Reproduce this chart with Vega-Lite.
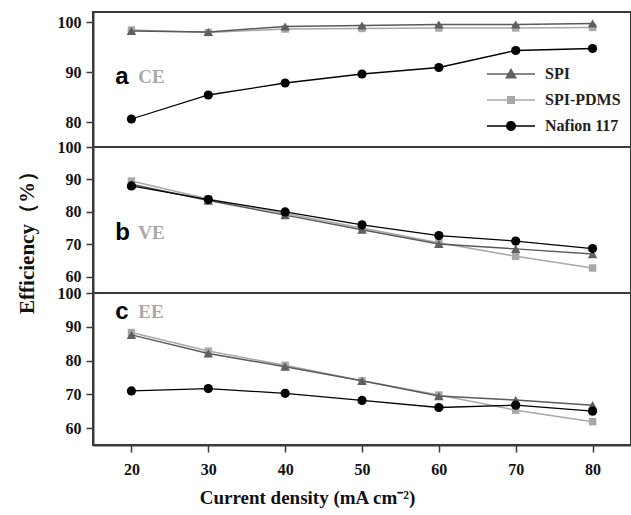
{
  "$schema": "https://vega.github.io/schema/vega-lite/v6.json",
  "padding": {"left": 15, "top": 11, "right": 0, "bottom": 3},
  "spacing": 0,
  "bounds": "flush",
  "datasets": {
    "d": [
      {"panel": "CE", "series": "SPI", "x": 20, "y": 98.2},
      {"panel": "CE", "series": "SPI", "x": 30, "y": 98.0},
      {"panel": "CE", "series": "SPI", "x": 40, "y": 99.1},
      {"panel": "CE", "series": "SPI", "x": 50, "y": 99.3},
      {"panel": "CE", "series": "SPI", "x": 60, "y": 99.5},
      {"panel": "CE", "series": "SPI", "x": 70, "y": 99.5},
      {"panel": "CE", "series": "SPI", "x": 80, "y": 99.7},
      {"panel": "CE", "series": "SPI-PDMS", "x": 20, "y": 98.4},
      {"panel": "CE", "series": "SPI-PDMS", "x": 30, "y": 97.9},
      {"panel": "CE", "series": "SPI-PDMS", "x": 40, "y": 98.6},
      {"panel": "CE", "series": "SPI-PDMS", "x": 50, "y": 98.7},
      {"panel": "CE", "series": "SPI-PDMS", "x": 60, "y": 98.8},
      {"panel": "CE", "series": "SPI-PDMS", "x": 70, "y": 98.8},
      {"panel": "CE", "series": "SPI-PDMS", "x": 80, "y": 98.9},
      {"panel": "CE", "series": "Nafion 117", "x": 20, "y": 80.6},
      {"panel": "CE", "series": "Nafion 117", "x": 30, "y": 85.4},
      {"panel": "CE", "series": "Nafion 117", "x": 40, "y": 87.8},
      {"panel": "CE", "series": "Nafion 117", "x": 50, "y": 89.6},
      {"panel": "CE", "series": "Nafion 117", "x": 60, "y": 90.9},
      {"panel": "CE", "series": "Nafion 117", "x": 70, "y": 94.3},
      {"panel": "CE", "series": "Nafion 117", "x": 80, "y": 94.7},
      {"panel": "VE", "series": "SPI", "x": 20, "y": 88.5},
      {"panel": "VE", "series": "SPI", "x": 30, "y": 83.5},
      {"panel": "VE", "series": "SPI", "x": 40, "y": 79.0},
      {"panel": "VE", "series": "SPI", "x": 50, "y": 74.5},
      {"panel": "VE", "series": "SPI", "x": 60, "y": 70.1},
      {"panel": "VE", "series": "SPI", "x": 70, "y": 68.6},
      {"panel": "VE", "series": "SPI", "x": 80, "y": 67.0},
      {"panel": "VE", "series": "SPI-PDMS", "x": 20, "y": 89.5},
      {"panel": "VE", "series": "SPI-PDMS", "x": 30, "y": 84.0},
      {"panel": "VE", "series": "SPI-PDMS", "x": 40, "y": 79.5},
      {"panel": "VE", "series": "SPI-PDMS", "x": 50, "y": 75.0},
      {"panel": "VE", "series": "SPI-PDMS", "x": 60, "y": 70.5},
      {"panel": "VE", "series": "SPI-PDMS", "x": 70, "y": 66.3},
      {"panel": "VE", "series": "SPI-PDMS", "x": 80, "y": 62.7},
      {"panel": "VE", "series": "Nafion 117", "x": 20, "y": 88.0},
      {"panel": "VE", "series": "Nafion 117", "x": 30, "y": 83.8},
      {"panel": "VE", "series": "Nafion 117", "x": 40, "y": 80.0},
      {"panel": "VE", "series": "Nafion 117", "x": 50, "y": 76.0},
      {"panel": "VE", "series": "Nafion 117", "x": 60, "y": 72.7},
      {"panel": "VE", "series": "Nafion 117", "x": 70, "y": 71.0},
      {"panel": "VE", "series": "Nafion 117", "x": 80, "y": 68.7},
      {"panel": "EE", "series": "SPI", "x": 20, "y": 87.6},
      {"panel": "EE", "series": "SPI", "x": 30, "y": 82.1},
      {"panel": "EE", "series": "SPI", "x": 40, "y": 78.2},
      {"panel": "EE", "series": "SPI", "x": 50, "y": 74.0},
      {"panel": "EE", "series": "SPI", "x": 60, "y": 69.5},
      {"panel": "EE", "series": "SPI", "x": 70, "y": 68.3},
      {"panel": "EE", "series": "SPI", "x": 80, "y": 66.8},
      {"panel": "EE", "series": "SPI-PDMS", "x": 20, "y": 88.3},
      {"panel": "EE", "series": "SPI-PDMS", "x": 30, "y": 82.8},
      {"panel": "EE", "series": "SPI-PDMS", "x": 40, "y": 78.6},
      {"panel": "EE", "series": "SPI-PDMS", "x": 50, "y": 74.0},
      {"panel": "EE", "series": "SPI-PDMS", "x": 60, "y": 69.8},
      {"panel": "EE", "series": "SPI-PDMS", "x": 70, "y": 65.3},
      {"panel": "EE", "series": "SPI-PDMS", "x": 80, "y": 61.9},
      {"panel": "EE", "series": "Nafion 117", "x": 20, "y": 71.0},
      {"panel": "EE", "series": "Nafion 117", "x": 30, "y": 71.7},
      {"panel": "EE", "series": "Nafion 117", "x": 40, "y": 70.3},
      {"panel": "EE", "series": "Nafion 117", "x": 50, "y": 68.2},
      {"panel": "EE", "series": "Nafion 117", "x": 60, "y": 66.1},
      {"panel": "EE", "series": "Nafion 117", "x": 70, "y": 66.8},
      {"panel": "EE", "series": "Nafion 117", "x": 80, "y": 65.0}
    ]
  },
  "vconcat": [
    {
      "width": 538,
      "height": 135,
      "data": {"name": "d"},
      "encoding": {
        "x": {"field": "x", "type": "quantitative", "scale": {"domain": [15, 85], "nice": false, "zero": false}, "axis": null},
        "y": {"field": "y", "type": "quantitative", "scale": {"domain": [75, 102], "nice": false, "zero": false}, "axis": {"values": [80, 90, 100], "title": null}}
      },
      "layer": [
        {"transform": [{"filter": "datum.panel == 'CE' && datum.series == 'SPI-PDMS'"}], "mark": {"type": "line", "color": "#a8a8a8", "strokeWidth": 1.5, "point": {"shape": "square", "filled": true, "size": 55, "color": "#a8a8a8"}}},
        {"transform": [{"filter": "datum.panel == 'CE' && datum.series == 'SPI'"}], "mark": {"type": "line", "color": "#5a5a5a", "strokeWidth": 1.5, "point": {"shape": "triangle-up", "filled": true, "size": 90, "color": "#5f5f5f"}}},
        {"transform": [{"filter": "datum.panel == 'CE' && datum.series == 'Nafion 117'"}], "mark": {"type": "line", "color": "#000000", "strokeWidth": 1.3, "point": {"shape": "circle", "filled": true, "size": 85, "color": "#000000"}}},
        {
          "transform": [{"filter": "false"}],
          "mark": {"type": "point", "filled": true, "opacity": 1},
          "encoding": {
            "color": {"field": "series", "type": "nominal", "scale": {"domain": ["SPI", "SPI-PDMS", "Nafion 117"], "range": ["#5f5f5f", "#a8a8a8", "#000000"]},
              "legend": {"orient": "none", "legendX": 408, "legendY": 52, "title": null, "symbolSize": 400, "symbolOpacity": 1, "symbolStrokeWidth": 0, "labelFont": "Liberation Serif", "labelFontWeight": "bold", "labelFontSize": 16, "labelColor": "#222", "labelOffset": 24, "rowPadding": 8}},
            "shape": {"field": "series", "type": "nominal", "scale": {"domain": ["SPI", "SPI-PDMS", "Nafion 117"], "range": [
              "M-2.4,-0.07H-0.3V0.07H-2.4Z M0.3,-0.07H2.4V0.07H0.3Z M0,-0.6L0.6,0.45L-0.6,0.45Z",
              "M-2.4,-0.07H-0.3V0.07H-2.4Z M0.3,-0.07H2.4V0.07H0.3Z M-0.4,-0.4H0.4V0.4H-0.4Z",
              "M-2.4,-0.07H-0.45V0.07H-2.4Z M0.45,-0.07H2.4V0.07H0.45Z M-0.5,0A0.5,0.5 0 1,1 0.5,0A0.5,0.5 0 1,1 -0.5,0Z"
            ]}}
          }
        },
        {"transform": [{"filter": "datum.panel == 'CE' && datum.series == 'SPI' && datum.x == 20"}], "mark": {"type": "text", "text": "a", "align": "left", "baseline": "middle", "font": "Liberation Sans", "fontWeight": "bold", "fontSize": 24, "color": "#000"}, "encoding": {"x": {"datum": 17.9}, "y": {"datum": 89}}},
        {"transform": [{"filter": "datum.panel == 'CE' && datum.series == 'SPI' && datum.x == 20"}], "mark": {"type": "text", "text": "CE", "align": "left", "baseline": "middle", "font": "Liberation Serif", "fontWeight": "bold", "fontSize": 19, "color": "#a8a8a8"}, "encoding": {"x": {"datum": 20.9}, "y": {"datum": 89}}}
      ]
    },
    {
      "width": 538,
      "height": 146,
      "data": {"name": "d"},
      "encoding": {
        "x": {"field": "x", "type": "quantitative", "scale": {"domain": [15, 85], "nice": false, "zero": false}, "axis": null},
        "y": {"field": "y", "type": "quantitative", "scale": {"domain": [55, 100], "nice": false, "zero": false}, "axis": {"values": [60, 70, 80, 90, 100], "title": "Efficiency（%）", "titlePadding": 20, "titleFontSize": 21, "titleY": 90}}
      },
      "layer": [
        {"transform": [{"filter": "datum.panel == 'VE' && datum.series == 'SPI-PDMS'"}], "mark": {"type": "line", "color": "#a8a8a8", "strokeWidth": 1.5, "point": {"shape": "square", "filled": true, "size": 55, "color": "#a8a8a8"}}},
        {"transform": [{"filter": "datum.panel == 'VE' && datum.series == 'SPI'"}], "mark": {"type": "line", "color": "#5a5a5a", "strokeWidth": 1.5, "point": {"shape": "triangle-up", "filled": true, "size": 90, "color": "#5f5f5f"}}},
        {"transform": [{"filter": "datum.panel == 'VE' && datum.series == 'Nafion 117'"}], "mark": {"type": "line", "color": "#000000", "strokeWidth": 1.3, "point": {"shape": "circle", "filled": true, "size": 85, "color": "#000000"}}},
        {"transform": [{"filter": "datum.panel == 'VE' && datum.series == 'SPI' && datum.x == 20"}], "mark": {"type": "text", "text": "b", "align": "left", "baseline": "middle", "font": "Liberation Sans", "fontWeight": "bold", "fontSize": 24, "color": "#000"}, "encoding": {"x": {"datum": 17.9}, "y": {"datum": 73.5}}},
        {"transform": [{"filter": "datum.panel == 'VE' && datum.series == 'SPI' && datum.x == 20"}], "mark": {"type": "text", "text": "VE", "align": "left", "baseline": "middle", "font": "Liberation Serif", "fontWeight": "bold", "fontSize": 19, "color": "#a8a8a8"}, "encoding": {"x": {"datum": 20.9}, "y": {"datum": 73.5}}}
      ]
    },
    {
      "width": 538,
      "height": 152,
      "data": {"name": "d"},
      "encoding": {
        "x": {"field": "x", "type": "quantitative", "scale": {"domain": [15, 85], "nice": false, "zero": false}, "axis": {"values": [20, 30, 40, 50, 60, 70, 80], "title": "Current density (mA cm⁻²)", "labelPadding": 9, "titlePadding": 11, "titleX": 214}},
        "y": {"field": "y", "type": "quantitative", "scale": {"domain": [55, 100], "nice": false, "zero": false}, "axis": {"values": [60, 70, 80, 90, 100], "title": null}}
      },
      "layer": [
        {"transform": [{"filter": "datum.panel == 'EE' && datum.series == 'SPI-PDMS'"}], "mark": {"type": "line", "color": "#a8a8a8", "strokeWidth": 1.5, "point": {"shape": "square", "filled": true, "size": 55, "color": "#a8a8a8"}}},
        {"transform": [{"filter": "datum.panel == 'EE' && datum.series == 'SPI'"}], "mark": {"type": "line", "color": "#5a5a5a", "strokeWidth": 1.5, "point": {"shape": "triangle-up", "filled": true, "size": 90, "color": "#5f5f5f"}}},
        {"transform": [{"filter": "datum.panel == 'EE' && datum.series == 'Nafion 117'"}], "mark": {"type": "line", "color": "#000000", "strokeWidth": 1.3, "point": {"shape": "circle", "filled": true, "size": 85, "color": "#000000"}}},
        {"transform": [{"filter": "datum.panel == 'EE' && datum.series == 'SPI' && datum.x == 20"}], "mark": {"type": "text", "text": "c", "align": "left", "baseline": "middle", "font": "Liberation Sans", "fontWeight": "bold", "fontSize": 24, "color": "#000"}, "encoding": {"x": {"datum": 17.9}, "y": {"datum": 94.4}}},
        {"transform": [{"filter": "datum.panel == 'EE' && datum.series == 'SPI' && datum.x == 20"}], "mark": {"type": "text", "text": "EE", "align": "left", "baseline": "middle", "font": "Liberation Serif", "fontWeight": "bold", "fontSize": 19, "color": "#a8a8a8"}, "encoding": {"x": {"datum": 20.9}, "y": {"datum": 94.4}}}
      ]
    }
  ],
  "config": {
    "view": {"stroke": "#3a3a3a", "strokeWidth": 2},
    "axis": {
      "grid": false,
      "domainColor": "#3a3a3a",
      "domainWidth": 2,
      "tickColor": "#3a3a3a",
      "tickWidth": 1.5,
      "tickSize": 7,
      "labelPadding": 5,
      "labelFont": "Liberation Serif",
      "labelFontWeight": "bold",
      "labelFontSize": 16,
      "labelColor": "#111",
      "labelFlush": false,
      "labelOverlap": false,
      "titleFont": "Liberation Serif",
      "titleFontWeight": "bold",
      "titleFontSize": 19,
      "titleColor": "#111"
    }
  }
}
